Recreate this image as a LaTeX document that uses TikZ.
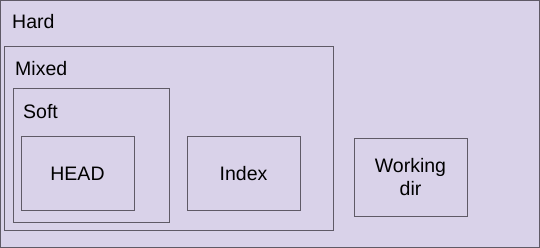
\documentclass[tikz,border=0pt]{standalone}
\usepackage{fontspec}
\setmainfont{Liberation Sans}
\definecolor{lavender}{HTML}{D9D2E9}
\definecolor{boxline}{HTML}{5F5A66}
\begin{document}
\begin{tikzpicture}[x=1pt,y=-1pt,
    frame/.style={rectangle, draw=boxline, line width=1pt, inner sep=0pt,
      font=\fontsize{19.5}{23}\selectfont},
    lbl/.style={anchor=base west, inner sep=0pt, font=\fontsize{19.5}{23}\selectfont}]
  \useasboundingbox (0,0) rectangle (540,248);

  % Boxes
  \node (hard) at (270,124) [frame, fill=lavender, minimum width=539pt, minimum height=247pt] {};
  \node (mixed) at (168.5,138.5) [frame, minimum width=329pt, minimum height=183pt] {};
  \node (soft) at (91,155.5) [frame, minimum width=156pt, minimum height=133pt] {};

  \node (head) at (77.5,173.5) [frame, minimum width=113pt, minimum height=73pt] {HEAD};
  \node (index) at (243.5,173.5) [frame, minimum width=113pt, minimum height=73pt] {Index};
  \node (wdir) at (410.5,177.5) [frame, minimum width=113pt, minimum height=77pt, align=center] {Working\\dir};

  % Labels
  \node (hardlbl) at (12,29) [lbl] {Hard};
  \node (mixedlbl) at (15,76) [lbl] {Mixed};
  \node (softlbl) at (23,119) [lbl] {Soft};
\end{tikzpicture}
\end{document}
